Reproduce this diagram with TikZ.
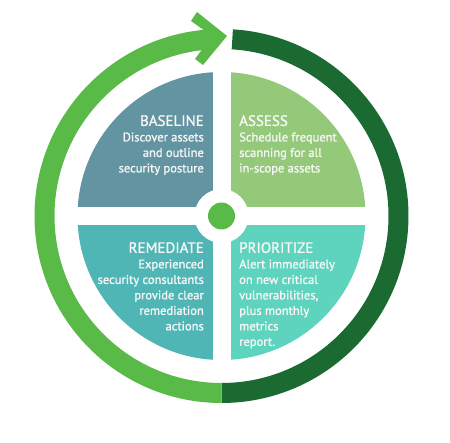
\documentclass[tikz,border=0pt]{standalone}
\usepackage{fontspec}
\setmainfont{PT Sans}[FakeBold=1.4]
\definecolor{cBase}{HTML}{6394A2}
\definecolor{cAssess}{HTML}{95C97A}
\definecolor{cRem}{HTML}{4FB6B5}
\definecolor{cPrior}{HTML}{5ED4BF}
\definecolor{ringL}{HTML}{5ABA48}
\definecolor{ringD}{HTML}{1B6A32}
\definecolor{txt}{HTML}{F6F6F6}
\tikzset{
  lbl/.style={text=txt, inner sep=0pt, font=\fontsize{12.5}{15.5}\selectfont},
  lblR/.style={lbl, anchor=north east, align=right},
  lblL/.style={lbl, anchor=north west, align=left},
}
\newcommand{\ttl}[1]{{\fontsize{15}{15.5}\selectfont #1}}
\begin{document}
\begin{tikzpicture}[x=1pt,y=1pt]
\useasboundingbox (0,0) rectangle (450,442);
\fill[white] (0,0) rectangle (450,442);
\coordinate (c) at (221.5,226);
% quadrants
\fill[cBase, shift={(c)}] (0,0) -- (180:144) arc (180:90:144) -- cycle;
\fill[cAssess, shift={(c)}] (0,0) -- (90:144) arc (90:0:144) -- cycle;
\fill[cPrior, shift={(c)}] (0,0) -- (0:144) arc (0:-90:144) -- cycle;
\fill[cRem, shift={(c)}] (0,0) -- (-90:144) arc (-90:-180:144) -- cycle;
% white cross and hub
\fill[white, shift={(c)}] (-9,-146) rectangle (9,146);
\fill[white, shift={(c)}] (-146,-9) rectangle (146,9);
\fill[white] (c) circle (27);
\node[circle, fill=ringL, minimum size=27pt, inner sep=0pt] (hub) at (c) {};
% rings
\fill[ringD, shift={(c)}] (86.5:187) arc (86.5:-90:187) -- (-90:167) arc (-90:86.5:167) -- cycle;
\fill[ringL, shift={(c)}] (270:187) arc (270:92.5:187) -- (92.5:167) arc (92.5:270:167) -- cycle;
\fill[ringL] (197,430) -- (227,406) -- (203,377) -- (195,383) -- (212,406) -- (191,421) -- cycle;
% texts
\node[lblR] (baseline) at (204,327) {\ttl{BASELINE}\\Discover assets\\and outline\\security posture};
\node[lblL] (assess) at (239,327) {\ttl{ASSESS}\\Schedule frequent\\scanning for all\\in-scope assets};
\node[lblR] (remediate) at (204,200) {\ttl{REMEDIATE}\\Experienced\\security consultants\\provide clear\\remediation\\actions};
\node[lblL] (prioritize) at (239,200) {\ttl{PRIORITIZE}\\Alert immediately\\on new critical\\vulnerabilities,\\plus monthly\\metrics\\report.};
\end{tikzpicture}
\end{document}
